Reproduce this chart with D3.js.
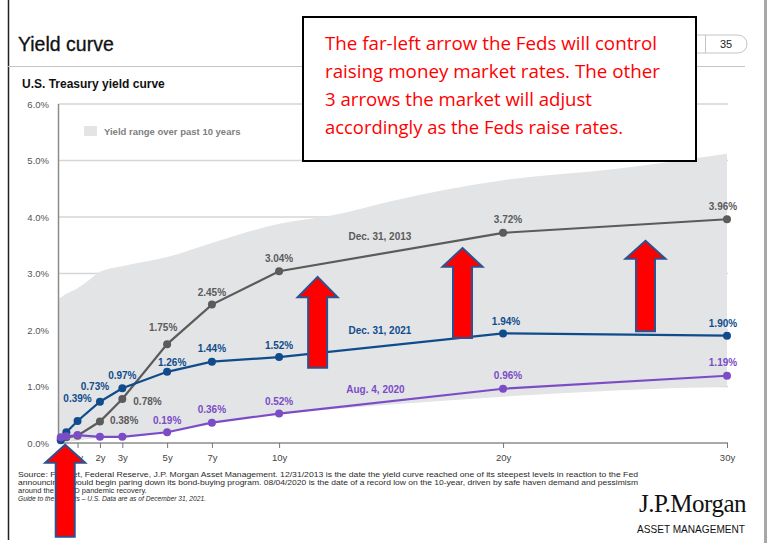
<!DOCTYPE html>
<html>
<head>
<meta charset="utf-8">
<script src="https://cdn.jsdelivr.net/npm/d3@7"></script>
<style>
body{margin:0;background:#fff;}
svg text{font-family:"Liberation Sans",Arial,sans-serif;}
</style>
</head>
<body>
<div id="canvas"></div>
<script>
// maturities in years, yields in percent
var maturities = [0.25, 0.5, 1, 2, 3, 5, 7, 10, 20, 30];
var dec2013 = [0.07, 0.10, 0.13, 0.38, 0.78, 1.75, 2.45, 3.04, 3.72, 3.96];
var dec2021 = [0.05, 0.19, 0.39, 0.73, 0.97, 1.26, 1.44, 1.52, 1.94, 1.90];
var aug2020 = [0.10, 0.12, 0.14, 0.11, 0.11, 0.19, 0.36, 0.52, 0.96, 1.19];

var tickYears = [1, 2, 3, 5, 7, 10, 20, 30];
var tickLabels = ['1y', '2y', '3y', '5y', '7y', '10y', '20y', '30y'];
var yTicks = [0, 1, 2, 3, 4, 5, 6];

// 10 year range band
var rangeYears = [0.15, 0.5, 1, 1.5, 2, 3, 5, 7, 10, 12.5, 15, 20, 25, 30];
var rangeHigh = [2.55, 2.64, 2.74, 2.88, 3.03, 3.13, 3.29, 3.54, 3.88, 4.04, 4.28, 4.65, 4.85, 5.12];
var rangeLow  = [0, 0.02, 0.04, 0.07, 0.09, 0.10, 0.19, 0.36, 0.52, 0.60, 0.68, 0.82, 0.93, 1.00];

// annotation arrows: centre maturity, tip, head base, tail (percent)
var arrowYears = [0.45, 11.72, 18.19, 26.36];
var arrowTip   = [-0.03, 2.94, 3.45, 3.58];
var arrowBase  = [-0.35, 2.58, 3.12, 3.26];
var arrowTail  = [-1.66, 1.33, 1.86, 1.98];

var note = ['The far-left arrow the Feds will control',
            'raising money market rates.  The other',
            '3 arrows the market will adjust',
            'accordingly as the Feds raise rates.'];

var W = 770, H = 543;
var svg = d3.select('#canvas').append('svg').attr('width', W).attr('height', H);

var x = d3.scaleLinear().domain([0.15, 30]).range([58.5, 727]);
var y = d3.scaleLinear().domain([0, 6]).range([443, 104]);

// page frame
svg.append('line').attr('x1', 8.5).attr('x2', 8.5).attr('y1', 0).attr('y2', 540)
    .style('stroke', '#222').style('stroke-width', 1.5);
svg.append('rect').attr('x', 764).attr('y', 0).attr('width', 3).attr('height', H).style('fill', '#a8a8a8');
svg.append('line').attr('x1', 8).attr('x2', 745).attr('y1', 66.5).attr('y2', 66.5)
    .style('stroke', '#c4c4c4').style('stroke-width', 1);

svg.append('text').attr('x', 18).attr('y', 50.5).text('Yield curve')
    .style('font-size', '19.5px').style('fill', '#111').style('stroke', '#111').style('stroke-width', 0.3);
svg.append('text').attr('x', 22).attr('y', 88).text('U.S. Treasury yield curve')
    .style('font-size', '12px').style('font-weight', 'bold').style('fill', '#111');

// page number tab
svg.append('rect').attr('x', 600).attr('y', 35).attr('width', 147).attr('height', 18).attr('rx', 9)
    .style('fill', '#fff').style('stroke', '#c4c4c4');
svg.append('line').attr('x1', 705.5).attr('x2', 705.5).attr('y1', 35).attr('y2', 53).style('stroke', '#c4c4c4');
svg.append('text').attr('x', 726).attr('y', 48).attr('text-anchor', 'middle').text('35')
    .style('font-size', '11px').style('fill', '#222');

var plot = svg.append('g').attr('class', 'plot');

// gridlines
plot.selectAll('.grid').data(yTicks.slice(1)).enter().append('line').attr('class', 'grid')
    .attr('x1', x(0.15)).attr('x2', 728).attr('y1', function(d){ return y(d); }).attr('y2', function(d){ return y(d); })
    .style('stroke', '#d6d6d6').style('stroke-width', 1.5);

// range band
var band = rangeYears.map(function(d, i){ return {m: d, lo: rangeLow[i], hi: rangeHigh[i]}; });
var area = d3.area().x(function(d){ return x(d.m); }).y0(function(d){ return y(d.lo); }).y1(function(d){ return y(d.hi); })
    .curve(d3.curveMonotoneX);
plot.append('path').datum(band).attr('d', area).style('fill', '#e3e4e6');

// legend
plot.append('rect').attr('x', 84).attr('y', 126).attr('width', 13).attr('height', 10).style('fill', '#e3e4e6');
plot.append('text').attr('x', 104).attr('y', 134.5).text('Yield range over past 10 years')
    .style('font-size', '9.5px').style('font-weight', 'bold').style('fill', '#808080');

// axes
plot.append('line').attr('x1', x(0.15)).attr('x2', x(0.15)).attr('y1', y(6)).attr('y2', y(0))
    .style('stroke', '#8c8c8c').style('stroke-width', 1.5);
plot.append('line').attr('x1', x(0.15)).attr('x2', 728).attr('y1', y(0)).attr('y2', y(0))
    .style('stroke', '#8c8c8c').style('stroke-width', 1.5);

var yAxis = d3.axisLeft(y).tickValues(yTicks).tickSize(0).tickPadding(0)
    .tickFormat(function(d){ return d3.format('.1f')(d) + '%'; });
var gy = plot.append('g').attr('transform', 'translate(49,0)').call(yAxis);
gy.select('.domain').remove();
gy.selectAll('text').style('font-size', '9.5px').style('fill', '#555').style('font-family', '"Liberation Sans",Arial,sans-serif');

var xAxis = d3.axisBottom(x).tickValues(tickYears).tickSize(5).tickPadding(6)
    .tickFormat(function(d, i){ return tickLabels[i]; });
var gx = plot.append('g').attr('transform', 'translate(0,' + y(0) + ')').call(xAxis);
gx.select('.domain').remove();
gx.selectAll('line').style('stroke', '#777');
gx.selectAll('text').style('font-size', '9.5px').style('fill', '#444').style('font-family', '"Liberation Sans",Arial,sans-serif');

// series
var series = [
    {name: 'Dec. 31, 2013', vals: dec2013, color: '#5b5b5b', nameAt: [13.1, 3.65],
     labels: [null, null, null, [10, -1, 'start'], [11, 3, 'start'], [-4, -17], [0, -12], [0, -13], [5, -13], [-4, -13]]},
    {name: 'Dec. 31, 2021', vals: dec2021, color: '#104c8c', nameAt: [13.1, 2.0],
     labels: [null, null, [0, -22], [-5, -15], [0, -13], [5, -9], [0, -13], [0, -12], [3, -12], [-4, -12]]},
    {name: 'Aug. 4, 2020', vals: aug2020, color: '#7b4cc6', nameAt: [13.0, 0.94],
     labels: [null, null, null, null, null, [0, -12], [0, -13], [0, -12], [5, -13], [-4, -13]]}
];

var line = d3.line().x(function(d){ return x(d.m); }).y(function(d){ return y(d.v); });

series.forEach(function(s){
    var pts = maturities.map(function(m, i){ return {m: m, v: s.vals[i], lab: s.labels[i]}; });
    var g = plot.append('g');
    g.append('path').datum(pts).attr('d', line)
        .style('fill', 'none').style('stroke', s.color).style('stroke-width', 2.2);
    g.selectAll('circle').data(pts).enter().append('circle')
        .attr('cx', function(d){ return x(d.m); }).attr('cy', function(d){ return y(d.v); })
        .attr('r', 4).style('fill', s.color);
    g.selectAll('.lab').data(pts.filter(function(d){ return d.lab; })).enter().append('text')
        .attr('class', 'lab')
        .attr('x', function(d){ return x(d.m) + d.lab[0]; })
        .attr('y', function(d){ return y(d.v) + d.lab[1]; })
        .attr('dy', '0.35em')
        .attr('text-anchor', function(d){ return d.lab[2] || 'middle'; })
        .text(function(d){ return d3.format('.2f')(d.v) + '%'; })
        .style('font-size', '10px').style('font-weight', 'bold').style('fill', s.color);
    g.append('text').attr('x', x(s.nameAt[0])).attr('y', y(s.nameAt[1])).attr('dy', '0.35em')
        .text(s.name).style('font-size', '10px').style('font-weight', 'bold').style('fill', s.color);
});

// footnotes
var foot = [
    {t: 'Source: FactSet, Federal Reserve, J.P. Morgan Asset Management. 12/31/2013 is the date the yield curve reached one of its steepest levels in reaction to the Fed', len: 620},
    {t: 'announcing it would begin paring down its bond-buying program. 08/04/2020 is the date of a record low on the 10-year, driven by safe haven demand and pessimism', len: 620},
    {t: 'around the COVID pandemic recovery.', len: 0},
    {t: 'Guide to the Markets \u2013 U.S. Data are as of December 31, 2021.', len: 188, it: true}
];
foot.forEach(function(f, i){
    var t = svg.append('text').attr('x', 18).attr('y', 477 + i * 8).text(f.t)
        .style('font-size', '7.5px').style('fill', '#2a2a2a');
    if (f.len) t.attr('textLength', f.len).attr('lengthAdjust', 'spacingAndGlyphs');
    if (f.it) t.style('font-style', 'italic');
});

// logo
svg.append('text').attr('x', 746).attr('y', 512).attr('text-anchor', 'end').text('J.P.Morgan')
    .style('font-family', '"Liberation Serif","Times New Roman",serif').style('font-size', '25px')
    .style('fill', '#111').style('letter-spacing', '-0.5px');
svg.append('text').attr('x', 745).attr('y', 533).attr('text-anchor', 'end').text('ASSET MANAGEMENT')
    .attr('textLength', 108).attr('lengthAdjust', 'spacingAndGlyphs')
    .style('font-size', '10.5px').style('fill', '#111');

// arrows
var sw = 9.5, hw = 20;
var arrows = arrowYears.map(function(m, i){ return {m: m, tip: arrowTip[i], base: arrowBase[i], tail: arrowTail[i]}; });
svg.selectAll('.arrow').data(arrows).enter().append('path').attr('class', 'arrow')
    .attr('d', function(d){
        var cx = x(d.m), t = y(d.tip), b = y(d.base), e = y(d.tail);
        return 'M' + cx + ',' + t + 'L' + (cx + hw) + ',' + b + 'L' + (cx + sw) + ',' + b +
               'L' + (cx + sw) + ',' + e + 'L' + (cx - sw) + ',' + e + 'L' + (cx - sw) + ',' + b +
               'L' + (cx - hw) + ',' + b + 'Z';
    })
    .style('fill', '#ff0000').style('stroke', '#2f528f').style('stroke-width', 2).style('stroke-linejoin', 'miter');

// note box
svg.append('rect').attr('x', 303).attr('y', 17).attr('width', 393).attr('height', 144)
    .style('fill', '#fff').style('stroke', '#000').style('stroke-width', 2);
var noteLen = [332, 335, 267, 298];
note.forEach(function(n, i){
    svg.append('text').attr('x', 325).attr('y', 50 + i * 28).text(n)
        .attr('textLength', noteLen[i]).attr('lengthAdjust', 'spacingAndGlyphs')
        .style('font-family', '"Open Sans","Noto Sans",sans-serif').style('font-size', '19px').style('fill', '#ff0000');
});
</script>
</body>
</html>
